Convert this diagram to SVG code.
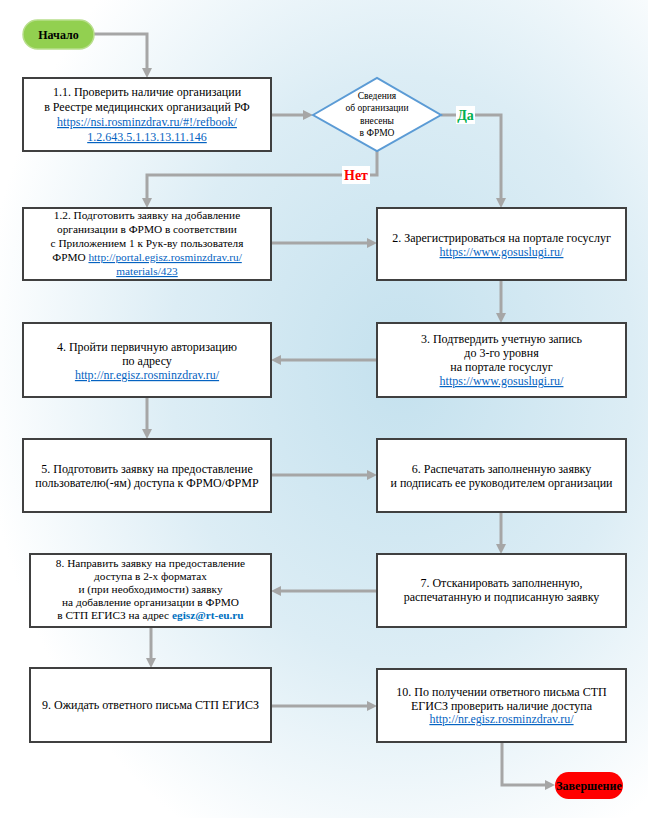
<svg xmlns="http://www.w3.org/2000/svg" width="648" height="818" viewBox="0 0 648 818">
<defs>
<radialGradient id="bg" cx="0.62" cy="0.45" r="0.65">
<stop offset="0" stop-color="#c4e1ee"/>
<stop offset="0.55" stop-color="#dcedf5"/>
<stop offset="1" stop-color="#ffffff"/>
</radialGradient>
<marker id="ah" viewBox="0 0 10 10" refX="2" refY="5" markerWidth="10" markerHeight="10" markerUnits="userSpaceOnUse" orient="auto">
<path d="M0,0 L10,5 L0,10 z" fill="#a6a6a6"/>
</marker>
<style>
.box{fill:#fff;stroke:#404040;stroke-width:2}
.t{font-family:"Liberation Serif","Times New Roman",serif;font-size:12px;fill:#000;text-anchor:middle}
.s{font-size:11.3px}
.d{font-size:9.5px}
.lnk{fill:#0563c1;text-decoration:underline}
.c{fill:none;stroke:#a6a6a6;stroke-width:3;marker-end:url(#ah)}
.lbl{font-family:"Liberation Serif","Times New Roman",serif;font-size:14px;font-weight:bold;text-anchor:middle}
</style>
</defs>
<rect x="0" y="0" width="648" height="818" fill="url(#bg)"/>

<g id="connectors">
<path class="c" d="M94,34 H147 V70"/>
<path class="c" d="M271,115 H305"/>
<path class="c" d="M441,115 H501 V200"/>
<path class="c" d="M377,151 V175 H147 V200"/>
<path class="c" d="M271,243 H369"/>
<path class="c" d="M501,280 V315"/>
<path class="c" d="M377,360 H279"/>
<path class="c" d="M147,397 V431"/>
<path class="c" d="M271,475 H369"/>
<path class="c" d="M501,512 V546"/>
<path class="c" d="M377,591 H279"/>
<path class="c" d="M151,627 V660"/>
<path class="c" d="M271,706 H369"/>
<path class="c" d="M502,742 V785 H547"/>
<rect x="456" y="106" width="19" height="18" fill="#fff"/>
<text class="lbl" x="465.5" y="120" fill="#00b050">Да</text>
<rect x="342" y="166" width="28" height="18" fill="#fff"/>
<text class="lbl" x="356" y="180" fill="#ff0000">Нет</text>
</g>

<g id="start">
<rect x="23" y="20" width="71" height="29" rx="14.5" fill="#92d050" stroke="#b8de8c" stroke-width="1.5"/>
<text class="t" x="58.5" y="39" font-weight="bold" font-size="12.5">Начало</text>
</g>

<g id="n1_1">
<rect class="box" x="23" y="78" width="248" height="73"/>
<text class="t" x="147" y="96">1.1. Проверить наличие организации</text>
<text class="t" x="147" y="111">в Реестре медицинских организаций РФ</text>
<text class="t lnk" x="147" y="126">https://nsi.rosminzdrav.ru/#!/refbook/</text>
<text class="t lnk" x="147" y="141">1.2.643.5.1.13.13.11.146</text>
</g>

<g id="decision">
<polygon points="313,115 377,78 441,115 377,151" fill="#fff" stroke="#5b9bd5" stroke-width="2"/>
<text class="t d" x="377" y="98.5">Сведения</text>
<text class="t d" x="377" y="111">об организации</text>
<text class="t d" x="377" y="123.5">внесены</text>
<text class="t d" x="377" y="136">в ФРМО</text>
</g>

<g id="n1_2">
<rect class="box" x="23" y="208" width="248" height="72"/>
<text class="t s" x="147" y="219">1.2. Подготовить заявку на добавление</text>
<text class="t s" x="147" y="233">организации в ФРМО в соответствии</text>
<text class="t s" x="147" y="247">с Приложением 1 к Рук-ву пользователя</text>
<text class="t s" x="147" y="261">ФРМО <tspan class="lnk">http://portal.egisz.rosminzdrav.ru/</tspan></text>
<text class="t s lnk" x="147" y="275">materials/423</text>
</g>

<g id="n2">
<rect class="box" x="377" y="208" width="249" height="72"/>
<text class="t" x="501.5" y="242">2. Зарегистрироваться на портале госуслуг</text>
<text class="t lnk" x="501.5" y="256">https://www.gosuslugi.ru/</text>
</g>

<g id="n3">
<rect class="box" x="377" y="323" width="249" height="74"/>
<text class="t" x="501.5" y="343">3. Подтвердить учетную запись</text>
<text class="t" x="501.5" y="357">до 3-го уровня</text>
<text class="t" x="501.5" y="371">на портале госуслуг</text>
<text class="t lnk" x="501.5" y="385">https://www.gosuslugi.ru/</text>
</g>

<g id="n4">
<rect class="box" x="23" y="323" width="248" height="74"/>
<text class="t" x="147" y="351">4. Пройти первичную авторизацию</text>
<text class="t" x="147" y="365">по адресу</text>
<text class="t lnk" x="147" y="379">http://nr.egisz.rosminzdrav.ru/</text>
</g>

<g id="n5">
<rect class="box" x="23" y="439" width="248" height="73"/>
<text class="t" x="147" y="473">5. Подготовить заявку на предоставление</text>
<text class="t" x="147" y="487">пользователю(-ям) доступа к ФРМО/ФРМР</text>
</g>

<g id="n6">
<rect class="box" x="377" y="439" width="249" height="73"/>
<text class="t" x="501.5" y="473">6. Распечатать заполненную заявку</text>
<text class="t" x="501.5" y="487">и подписать ее руководителем организации</text>
</g>

<g id="n7">
<rect class="box" x="377" y="554" width="249" height="73"/>
<text class="t" x="501.5" y="587">7. Отсканировать заполненную,</text>
<text class="t" x="501.5" y="601">распечатанную и подписанную заявку</text>
</g>

<g id="n8">
<rect class="box" x="30" y="554" width="241" height="73"/>
<text class="t s" x="150.5" y="567">8. Направить заявку на предоставление</text>
<text class="t s" x="150.5" y="580">доступа в 2-х форматах</text>
<text class="t s" x="150.5" y="593">и (при необходимости) заявку</text>
<text class="t s" x="150.5" y="606">на добавление организации в ФРМО</text>
<text class="t s" x="150.5" y="619">в СТП ЕГИСЗ на адрес <tspan fill="#0070c0" font-weight="bold">egisz@rt-eu.ru</tspan></text>
</g>

<g id="n9">
<rect class="box" x="30" y="668" width="241" height="74"/>
<text class="t" x="150.5" y="709">9. Ожидать ответного письма СТП ЕГИСЗ</text>
</g>

<g id="n10">
<rect class="box" x="377" y="669" width="249" height="73"/>
<text class="t" x="501.5" y="696">10. По получении ответного письма СТП</text>
<text class="t" x="501.5" y="709.5">ЕГИСЗ проверить наличие доступа</text>
<text class="t lnk" x="501.5" y="723">http://nr.egisz.rosminzdrav.ru/</text>
</g>

<g id="end">
<rect x="555" y="772" width="68" height="27" rx="13.5" fill="#ff0000"/>
<text class="t" x="589" y="790" font-weight="bold" font-size="11.5" fill="#fff">Завершение</text>
</g>
</svg>
